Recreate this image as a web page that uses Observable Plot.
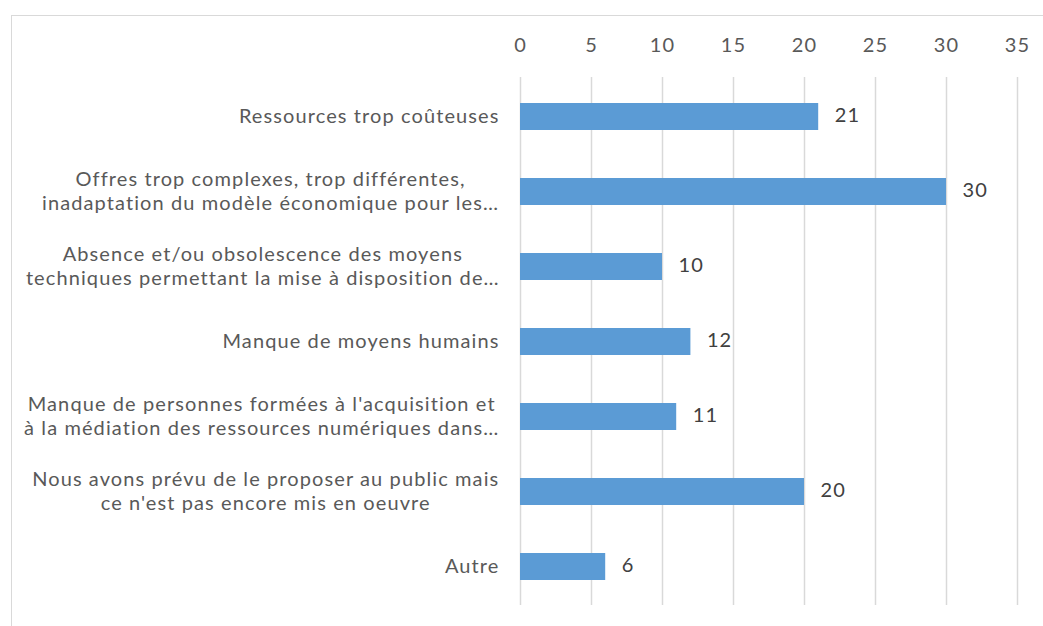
<!DOCTYPE html>
<html>
<head>
<meta charset="utf-8">
<script src="https://cdn.jsdelivr.net/npm/d3@7"></script>
<script src="https://cdn.jsdelivr.net/npm/@observablehq/plot@0.6"></script>
<style>
  html, body { margin: 0; padding: 0; background: #fff; overflow: hidden; }
  #wrap { position: relative; width: 1043px; height: 626px; overflow: hidden; }
  #border { position: absolute; left: 11px; top: 15px; width: 1200px; height: 800px; border-top: 1.5px solid #d9d9d9; border-left: 1.5px solid #d9d9d9; box-sizing: border-box; }
  #chart { position: absolute; left: 0; top: 0; }
  #chart svg text { letter-spacing: 1.1px; }
</style>
</head>
<body>
<div id="wrap"><div id="border"></div><div id="chart"></div></div>
<script>
const categories = [
  "Ressources trop coûteuses",
  "Offres trop complexes, trop différentes,\ninadaptation du modèle économique pour les…",
  "Absence et/ou obsolescence des moyens\ntechniques permettant la mise à disposition de…",
  "Manque de moyens humains",
  "Manque de personnes formées à l'acquisition et\nà la médiation des ressources numériques dans…",
  "Nous avons prévu de le proposer au public mais\nce n'est pas encore mis en oeuvre",
  "Autre"
];
const values = [21, 30, 10, 12, 11, 20, 6];
const xTicks = [0, 5, 10, 15, 20, 25, 30, 35];

const data = categories.map((c, i) => ({cat: c, value: values[i]}));

const FONT = "Lato, 'Open Sans', sans-serif";
const FS = 20;
const LS = 1.1;
const ctx = document.createElement("canvas").getContext("2d");
ctx.font = `${FS}px Lato`;
const lineWidth = l => ctx.measureText(l).width + LS * l.length;
const blockWidth = s => Math.max(...s.split("\n").map(lineWidth));

const labelMarks = data.map(d => Plot.text([d], {
  y: "cat",
  text: "cat",
  frameAnchor: "left",
  textAnchor: "middle",
  lineAnchor: "middle",
  lineHeight: 1.2,
  dx: -21 - blockWidth(d.cat) / 2,
  dy: -2,
  fill: "#595959",
  fontSize: FS
}));

const chart = Plot.plot({
  width: 1043,
  height: 626,
  marginLeft: 520,
  marginRight: 26,
  marginTop: 77,
  marginBottom: 21,
  style: {fontFamily: FONT, fontSize: FS + "px", background: "transparent", color: "#595959"},
  x: {domain: [0, 35], ticks: xTicks, axis: "top", tickSize: 0, tickPadding: 26, label: null},
  y: {domain: categories, axis: null, paddingInner: 0.64, paddingOuter: 0.32},
  marks: [
    Plot.gridX(xTicks, {stroke: "#d9d9d9", strokeOpacity: 1, strokeWidth: 1.5}),
    Plot.barX(data, {y: "cat", x: "value", fill: "#5b9bd5"}),
    Plot.text(data, {y: "cat", x: "value", text: d => String(d.value), textAnchor: "start", dx: 16, dy: -1, fill: "#404040", fontSize: FS}),
    ...labelMarks
  ]
});
document.getElementById("chart").appendChild(chart);
</script>
</body>
</html>
